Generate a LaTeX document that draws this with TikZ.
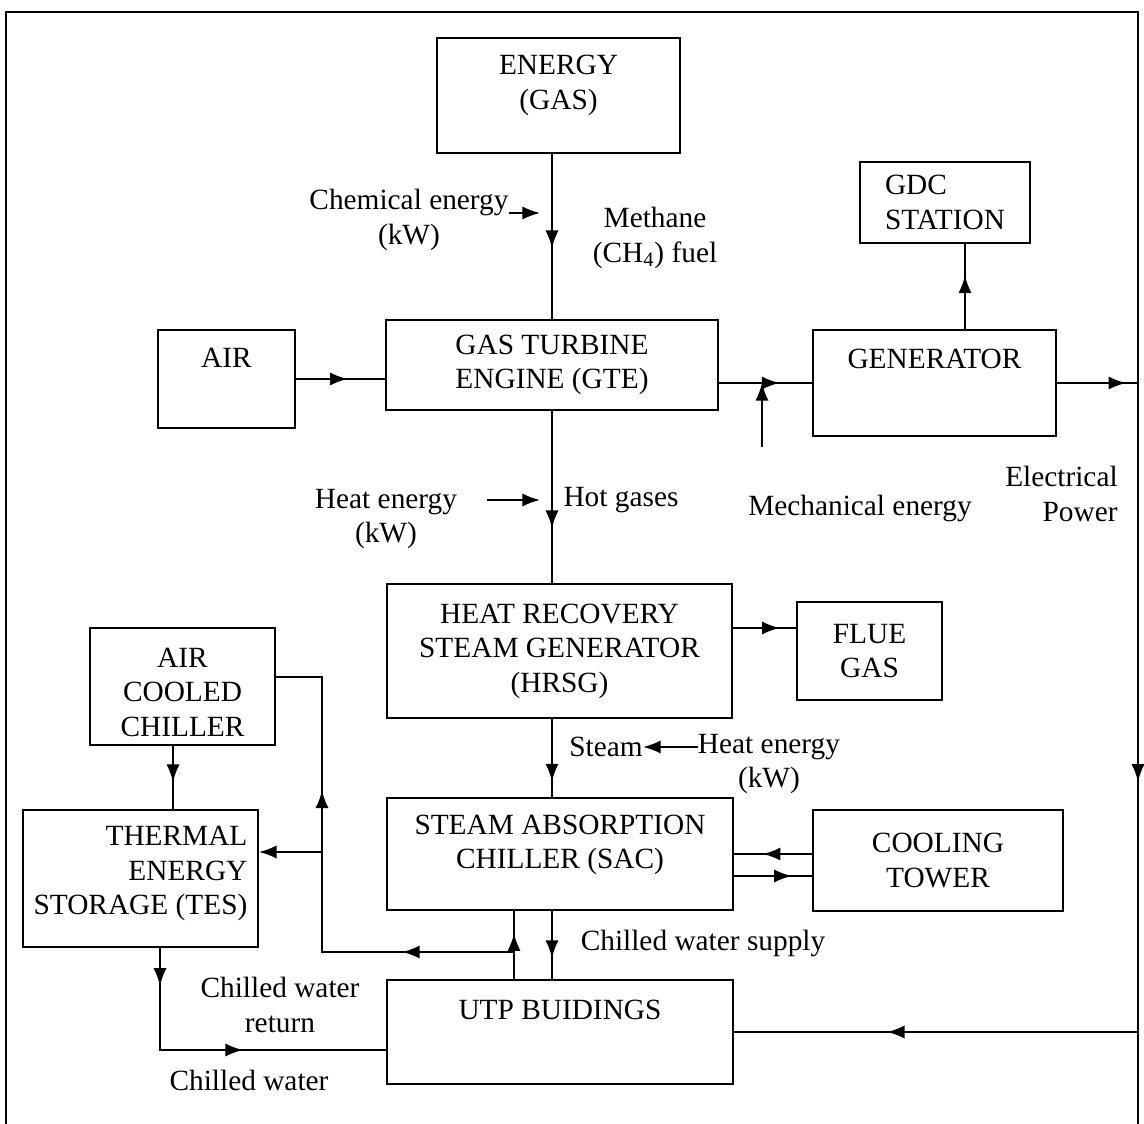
\documentclass[tikz,border=0pt]{standalone}
\usepackage{fontspec}
\setmainfont{Liberation Serif}
\usetikzlibrary{arrows.meta,decorations.markings}
\newcommand{\diagfont}{\fontsize{16.7}{19.6}\selectfont}

\begin{document}
\begin{tikzpicture}[x=0.02cm, y=-0.02cm,
  blk/.style={draw, line width=1.1pt, align=center, font=\diagfont, inner sep=0pt},
  lbl/.style={align=center, font=\diagfont, inner sep=0pt},
  wire/.style={line width=1.1pt},
  headline/.style={wire, -{Latex[length=10pt,width=7.5pt]}},
  flow/.style={wire, postaction={decorate}, decoration={markings,
    mark=at position #1 with {\arrow{Latex[length=10pt,width=7.5pt]}}}},
  flowtwo/.style 2 args={wire, postaction={decorate}, decoration={markings,
    mark=at position #1 with {\arrow{Latex[length=10pt,width=7.5pt]}},
    mark=at position #2 with {\arrow{Latex[length=10pt,width=7.5pt]}}}},
  flowthree/.style n args={3}{wire, postaction={decorate}, decoration={markings,
    mark=at position #1 with {\arrow{Latex[length=10pt,width=7.5pt]}},
    mark=at position #2 with {\arrow{Latex[length=10pt,width=7.5pt]}},
    mark=at position #3 with {\arrow{Latex[length=10pt,width=7.5pt]}}}}]

\useasboundingbox (0,0) rectangle (1144,1124);

% Frame
\draw[wire] (6,1140) -- (6,12) -- (1138,12) -- (1138,1140);

% Top row
\node[blk, minimum width=4.86cm, minimum height=2.30cm, text depth=15pt] (energy) at (558.5,95.5) {ENERGY\\(GAS)};
\node[blk, minimum width=3.40cm, minimum height=1.62cm, align=left] (gdc) at (945,202.5) {GDC\\STATION};

% Gas turbine row
\node[blk, minimum width=2.74cm, minimum height=1.96cm, text depth=24pt] (air) at (226.5,379) {AIR};
\node[blk, minimum width=6.64cm, minimum height=1.80cm] (gte) at (552,365) {GAS TURBINE\\ENGINE (GTE)};
\node[blk, minimum width=4.86cm, minimum height=2.12cm, text depth=27.5pt] (gen) at (934.5,383) {GENERATOR};

% Heat recovery row
\node[blk, minimum width=6.90cm, minimum height=2.68cm] (hrsg) at (559.5,651) {HEAT RECOVERY\\STEAM GENERATOR\\(HRSG)};
\node[blk, minimum width=2.90cm, minimum height=1.96cm] (flue) at (869.5,651) {FLUE\\GAS};
\node[blk, minimum width=3.70cm, minimum height=2.34cm, text height=57pt] (acc) at (182.5,686.5) {AIR\\COOLED\\CHILLER};

% Chiller row
\node[blk, minimum width=4.70cm, minimum height=2.74cm, align=right, text depth=9pt] (tes) at (140.5,878.5) {THERMAL\\ENERGY\\STORAGE (TES)};
\node[blk, minimum width=6.92cm, minimum height=2.24cm, text depth=14pt] (sac) at (560,854) {STEAM ABSORPTION\\CHILLER (SAC)};
\node[blk, minimum width=5.00cm, minimum height=2.02cm] (ct) at (938,860.5) {COOLING\\TOWER};

% Buildings
\node[blk, minimum width=6.92cm, minimum height=2.08cm, text depth=25pt] (utp) at (560,1032) {UTP BUIDINGS};

% Labels
\node[lbl] (chem) at (409,220) {Chemical energy\\(kW)};
\node[lbl] (fuel) at (655,238) {Methane\\(CH\textsubscript{4}) fuel};
\node[lbl] (heatone) at (386,519) {Heat energy\\(kW)};
\node[lbl] (hot) at (621,500) {Hot gases};
\node[lbl] (mech) at (860,508) {Mechanical energy};
\node[lbl, align=right, anchor=east] (power) at (1118,494) {Electrical\\Power};
\node[lbl] (steam) at (606,747) {Steam};
\node[lbl] (heattwo) at (769,764) {Heat energy\\(kW)};
\node[lbl] (supply) at (703,943) {Chilled water supply};
\node[lbl] (ret) at (280,1005) {Chilled water\\return};
\node[lbl] (cw) at (249,1080) {Chilled water};

% Free ends
\coordinate (chemtip) at (540,213);
\coordinate (hotin) at (540,500);
\coordinate (mechin) at (762,447);
\coordinate (elec) at (1138,383);
\coordinate (retj) at (514,952);
\coordinate (vret) at (322,952);
\coordinate (tesj) at (322,852);

% Gas and power
\draw[flow=0.57] (energy.south -| gte.north) -- (gte.north);
\draw[headline] (chem.east |- chemtip) -- (chemtip);
\draw[flow=0.58] (air.east) -- (air.east -| gte.west);
\draw[flow=0.65] (gen.west -| gte.east) -- (gen.west);
\draw[headline] (mechin) -- (mechin |- gen.west);
\draw[flow=0.63] ([xshift=0.61cm]gen.north) -- ([xshift=0.61cm]gen.north |- gdc.south);
\draw[flowthree={0.061}{0.423}{0.865}] (gen.east) -- (elec) |- (utp.east);

% Heat and steam
\draw[flow=0.68] (gte.south) -- (gte.south |- hrsg.north);
\draw[headline] ([xshift=0.6cm]heatone.east |- hotin) -- (hotin);
\draw[flow=0.74] ([yshift=0.46cm]hrsg.east) -- ([yshift=0.46cm]hrsg.east -| flue.west);
\draw[flow=0.8] (hrsg.south -| gte.south) -- (sac.north -| gte.south);
\draw[headline] (steam.east -| heattwo.west) -- (steam.east);

% Cooling water
\draw[flow=0.63] (sac.east -| ct.west) -- (sac.east);
\draw[flow=0.74] ([yshift=-0.44cm]sac.east) -- ([yshift=-0.44cm]sac.east -| ct.west);

% Chilled water
\draw[flow=0.69] (sac.south -| gte.south) -- (utp.north -| gte.south);
\draw[flow=0.67] ([xshift=-0.92cm]utp.north) -- ([xshift=-0.92cm]utp.north |- sac.south);
\draw[flowtwo={0.218}{0.689}] (retj) -- (vret) |- ([yshift=0.19cm]acc.east);
\draw[headline] (tesj) -- (tesj -| tes.east);
\draw[flow=0.57] ([xshift=-0.19cm]acc.south) -- ([xshift=-0.19cm]acc.south |- tes.north);
\draw[flowtwo={0.115}{0.564}] ([xshift=0.39cm]tes.south) |- ([yshift=-0.36cm]utp.west);

\end{tikzpicture}
\end{document}
